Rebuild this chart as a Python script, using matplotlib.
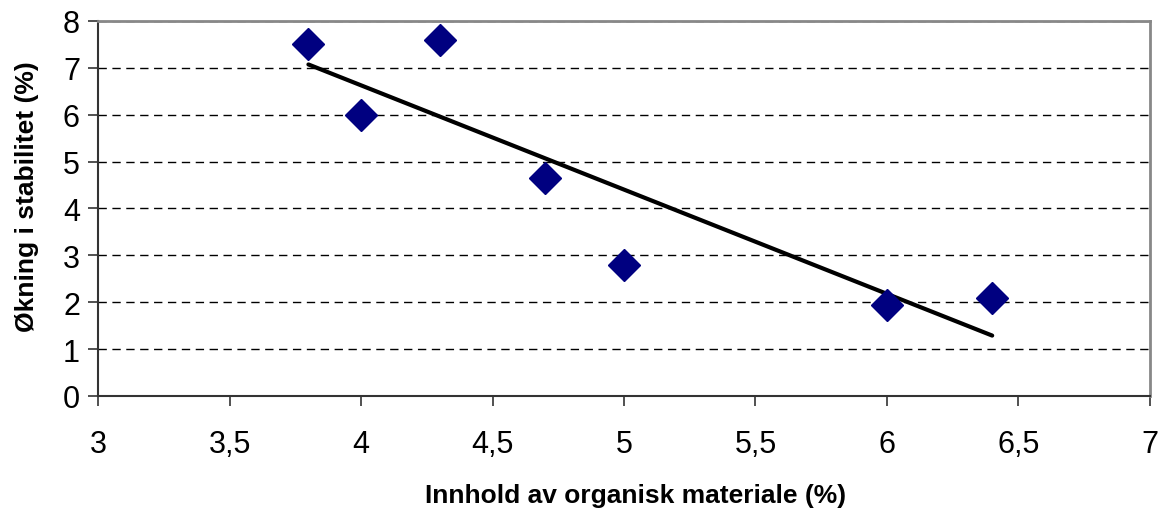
import numpy as np
import matplotlib
matplotlib.use('Agg')
import matplotlib.pyplot as plt
from matplotlib.ticker import FuncFormatter

# data
organisk = [3.8, 4.0, 4.3, 4.7, 5.0, 6.0, 6.4]
stabilitet = [7.5, 6.0, 7.6, 4.65, 2.8, 1.95, 2.1]
x_ticks = [3, 3.5, 4, 4.5, 5, 5.5, 6, 6.5, 7]
y_ticks = [0, 1, 2, 3, 4, 5, 6, 7, 8]

plt.rcParams['font.family'] = ['Liberation Sans', 'DejaVu Sans']

fig = plt.figure(figsize=(11.63, 5.10), dpi=100)
ax = fig.add_axes([0.0843, 0.2216, 0.9045, 0.7353])

# linear trend line (least squares), drawn over the data range
k, m = np.polyfit(organisk, stabilitet, 1)
xs = np.array([min(organisk), max(organisk)])
ax.plot(xs, k * xs + m, color='black', lw=3, solid_capstyle='round', zorder=3)

ax.plot(organisk, stabilitet, linestyle='none', marker='D', ms=16,
        color='#000080', markeredgecolor='#000080', zorder=4)

ax.set_xlim(3, 7)
ax.set_ylim(0, 8)
ax.set_xticks(x_ticks)
ax.set_yticks(y_ticks)
ax.xaxis.set_major_formatter(FuncFormatter(lambda v, p: f'{v:g}'.replace('.', ',')))

ax.yaxis.grid(True, color='black', lw=1, linestyle=(0, (6, 4)))
ax.set_axisbelow(True)

for s in ['left', 'bottom']:
    ax.spines[s].set_color('#333333')
    ax.spines[s].set_linewidth(1.5)
for s in ['top', 'right']:
    ax.spines[s].set_color('#888888')
    ax.spines[s].set_linewidth(2)

ax.tick_params(axis='both', direction='out', length=7, width=1.2, color='#333333',
               labelsize=22)
ax.tick_params(axis='x', pad=17)
ax.tick_params(axis='y', pad=6)

ax.set_xlabel('Innhold av organisk materiale (%)', fontsize=19, fontweight='bold')
ax.set_ylabel('Økning i stabilitet (%)', fontsize=19, fontweight='bold')
ax.xaxis.set_label_coords(0.511, -0.233)
ax.yaxis.set_label_coords(-0.056, 0.535)

fig.savefig('out.png', dpi=100)
